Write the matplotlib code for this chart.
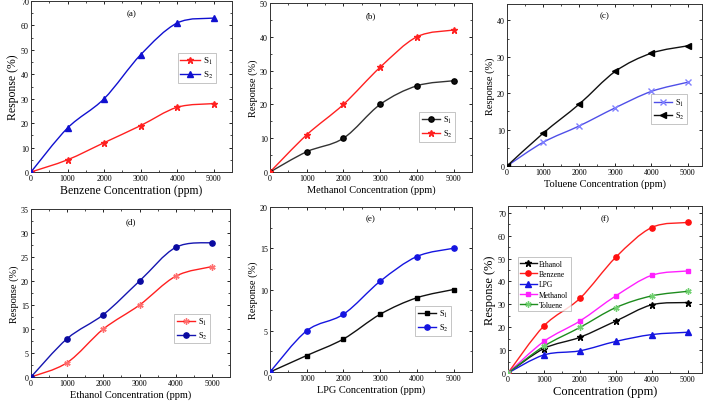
import numpy as np
import matplotlib
matplotlib.use("Agg")
import matplotlib.pyplot as plt
from matplotlib.path import Path
from matplotlib.patches import PathPatch
from matplotlib.lines import Line2D

plt.rcParams['font.family'] = ['Liberation Serif', 'DejaVu Serif']
plt.rcParams['mathtext.fontset'] = 'stix'

conc = [0, 1000, 2000, 3000, 4000, 5000]

# (a) benzene
benz_s1 = [0, 5, 12, 19, 26.5, 28]
benz_s2 = [0, 18, 30, 48, 61, 63]
# (b) methanol
meth_s1 = [0, 6, 10, 20, 25.5, 27]
meth_s2 = [0, 11, 20, 31, 40, 42]
# (c) toluene
tol_s1 = [0, 6.5, 11, 16, 20.5, 23]
tol_s2 = [0, 9, 17, 26, 31, 33]
# (d) ethanol
eth_s1 = [0, 3, 10, 15, 21, 23]
eth_s2 = [0, 8, 13, 20, 27, 28]
# (e) LPG
lpg_s1 = [0, 2, 4, 7, 9, 10]
lpg_s2 = [0, 5, 7, 11, 14, 15]
# (f) comparison
f_names = ['Ethanol', 'Benzene', 'LPG', 'Methanol', 'Toluene']
f_vals = [
    [0, 10.7, 15.6, 22.7, 29.8, 30.8],
    [0, 20.6, 32.6, 50.6, 63.6, 65.8],
    [0, 7.9, 9.7, 13.8, 16.8, 17.8],
    [0, 13.8, 22.7, 33.7, 42.7, 44.6],
    [0, 11.7, 19.9, 28.6, 33.7, 35.7],
]

W, H = 709, 406
fig = plt.figure(figsize=(W / 100, H / 100), dpi=100)


def ax_px(l, r, t, b):
    return fig.add_axes([l / W, (H - b) / H, (r - l) / W, (b - t) / H])


def smooth(ax, x, y, color, lw=1.0):
    # Catmull-Rom curve through the points, drawn as bezier path
    x = np.asarray(x, float)
    y = np.asarray(y, float)
    px = np.concatenate([[x[0]], x, [x[-1]]])
    py = np.concatenate([[y[0]], y, [y[-1]]])
    verts = [(x[0], y[0])]
    codes = [Path.MOVETO]
    for i in range(1, len(px) - 2):
        c1 = (px[i] + (px[i + 1] - px[i - 1]) / 6, py[i] + (py[i + 1] - py[i - 1]) / 6)
        c2 = (px[i + 1] - (px[i + 2] - px[i]) / 6, py[i + 1] - (py[i + 2] - py[i]) / 6)
        verts += [c1, c2, (px[i + 1], py[i + 1])]
        codes += [Path.CURVE4] * 3
    ax.add_patch(PathPatch(Path(verts, codes), fill=False, edgecolor=color, lw=lw))


def series(ax, y, lc, mk, mfc, mec, ms=3.8, label=None):
    smooth(ax, conc, y, lc)
    ax.plot(conc, y, ls='none', marker=mk, mfc=mfc, mec=mec, ms=ms, zorder=3)
    return Line2D([], [], color=lc, lw=1.0, marker=mk, mfc=mfc, mec=mec, ms=ms, label=label)


def style(ax, xlabel, ylim, ystep, tag, xmax=5500, xfs=7.5, yfs=7.5):
    ax.set_xlim(0, xmax)
    ax.set_ylim(*ylim)
    ax.set_xticks(conc)
    ax.set_yticks(np.arange(0, ylim[1] + 0.01, ystep))
    ax.set_xticks(np.arange(500, xmax, 1000), minor=True)
    ax.set_yticks(np.arange(ystep / 2, ylim[1], ystep), minor=True)
    ax.tick_params(which='both', direction='in', top=True, right=True, labelsize=5.8, pad=1.5)
    ax.tick_params(which='major', length=2.5, width=0.6)
    ax.tick_params(which='minor', length=1.5, width=0.5)
    for s in ax.spines.values():
        s.set_linewidth(0.7)
        s.set_color('#333333')
    ax.set_xlabel(xlabel, fontsize=xfs, labelpad=1.5)
    ax.set_ylabel('Response (%)', fontsize=yfs, labelpad=1.5)
    ax.text(0.5, 0.93, tag, transform=ax.transAxes, ha='center', va='center', fontsize=6.5)


def legend(ax, handles, bbox, fs=6):
    leg = ax.legend(handles=handles, loc='lower left', bbox_to_anchor=bbox, fontsize=fs,
                    frameon=True, fancybox=False, edgecolor='#999999', handlelength=2.2,
                    handletextpad=0.3, borderpad=0.3, labelspacing=0.3, borderaxespad=0)
    leg.get_frame().set_linewidth(0.5)


# (a)
ax = ax_px(31, 232, 2, 173)
h1 = series(ax, benz_s1, '#ff2020', '*', '#ff2020', '#ff2020', 4.8, 'S$_1$')
h2 = series(ax, benz_s2, '#1010d0', '^', '#1010d0', '#1010d0', 3.8, 'S$_2$')
style(ax, 'Benzene Concentration (ppm)', (0, 70), 10, '(a)', xfs=8.5, yfs=8.5)
legend(ax, [h1, h2], (0.73, 0.52), fs=6.5)

# (b)
ax = ax_px(270, 472, 4, 173)
h1 = series(ax, meth_s1, '#333333', 'o', '#111111', '#000000', 3.8, 'S$_1$')
h2 = series(ax, meth_s2, '#ff2020', '*', '#ff2020', '#ff2020', 4.8, 'S$_2$')
style(ax, 'Methanol Concentration (ppm)', (0, 50), 10, '(b)')
legend(ax, [h1, h2], (0.74, 0.18))

# (c)
ax = ax_px(507, 702, 5, 167)
h1 = series(ax, tol_s1, '#4f4fe8', 'x', '#8080ff', '#8080ff', 3.8, 'S$_1$')
h2 = series(ax, tol_s2, '#111111', '<', '#000000', '#000000', 3.8, 'S$_2$')
style(ax, 'Toluene Concentration (ppm)', (0, 44.5), 10, '(c)', xmax=5400)
legend(ax, [h1, h2], (0.74, 0.26))

# (d)
ax = ax_px(31, 230, 210, 378)
h1 = series(ax, eth_s1, '#ff2020', (6, 2, 0), '#ff7070', '#ff7070', 4.5, 'S$_1$')
h2 = series(ax, eth_s2, '#1515b0', 'o', '#0a0aa0', '#0a0aa0', 3.8, 'S$_2$')
style(ax, 'Ethanol Concentration (ppm)', (0, 35), 5, '(d)')
legend(ax, [h1, h2], (0.72, 0.2))

# (e)
ax = ax_px(270, 472, 208, 373)
h1 = series(ax, lpg_s1, '#111111', 's', '#000000', '#000000', 3.4, 'S$_1$')
h2 = series(ax, lpg_s2, '#1515e0', 'o', '#1515e0', '#1515e0', 3.8, 'S$_2$')
style(ax, 'LPG Concentration (ppm)', (0, 20), 5, '(e)')
legend(ax, [h1, h2], (0.72, 0.22))

# (f)
ax = ax_px(508, 702, 207, 374)
f_styles = [
    ('#111111', '*', '#000000', '#000000', 4.5),
    ('#ff2020', 'o', '#ff1010', '#ff1010', 3.8),
    ('#1515e0', '^', '#1515e0', '#1515e0', 3.8),
    ('#ff20ff', 's', '#ff20ff', '#ff20ff', 3.4),
    ('#1e8c1e', (6, 2, 0), '#70d070', '#70d070', 4.5),
]
hs = []
for name, vals, st in zip(f_names, f_vals, f_styles):
    hs.append(series(ax, vals, st[0], st[1], st[2], st[3], st[4], name))
style(ax, 'Concentration (ppm)', (0, 73), 10, '(f)', xmax=5400, xfs=9, yfs=9)
legend(ax, hs, (0.05, 0.37), fs=5.5)

fig.savefig('out.png', dpi=100)
